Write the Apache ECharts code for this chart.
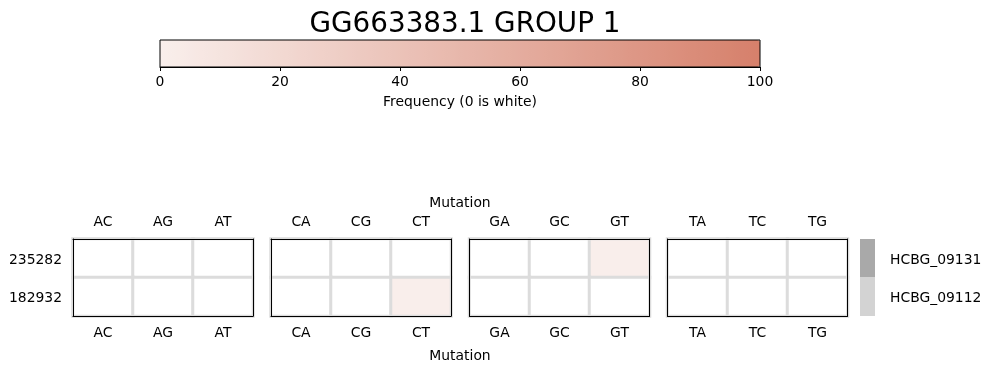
<!DOCTYPE html>
<html>
<head>
<meta charset="utf-8">
<script src="https://cdn.jsdelivr.net/npm/echarts@6/dist/echarts.min.js"></script>
<style>html,body{margin:0;padding:0;background:#fff}#c{width:991px;height:373px}</style>
</head>
<body>
<div id="c"></div>
<script>
var titleText = 'GG663383.1 GROUP 1';
var samples = ['235282', '182932'];
var strains = ['HCBG_09131', 'HCBG_09112'];
var mutationGroups = [['AC','AG','AT'], ['CA','CG','CT'], ['GA','GC','GT'], ['TA','TC','TG']];
var freq235282 = [0,0,0, 0,0,0, 0,0,1, 0,0,0];
var freq182932 = [0,0,0, 0,0,1, 0,0,0, 0,0,0];
var colorbarTicks = [0, 20, 40, 60, 80, 100];

var FONT = 'DejaVu Sans';
var FS = 13.9;
var panelLefts = [73, 271, 469.5, 667.5];
var panelW = 180, panelTop = 239, panelH = 77;
var freqs = [freq235282, freq182932];

var grids = [], xAxes = [], yAxes = [], series = [];
mutationGroups.forEach(function (cats, g) {
  grids.push({left: panelLefts[g], top: panelTop, width: panelW, height: panelH, containLabel: false});
  var axLine = {show: true, lineStyle: {color: '#000', width: 1}};
  xAxes.push({type: 'category', gridIndex: g, data: cats, position: 'bottom', z: 5,
    axisLine: axLine, axisTick: {show: false}, splitLine: {show: false},
    axisLabel: {fontFamily: FONT, fontSize: FS, color: '#000', margin: 10}});
  xAxes.push({type: 'category', gridIndex: g, data: cats, position: 'top', z: 5,
    axisLine: axLine, axisTick: {show: false}, splitLine: {show: false},
    axisLabel: {fontFamily: FONT, fontSize: FS, color: '#000', margin: 10}});
  yAxes.push({type: 'category', gridIndex: g, data: samples, inverse: true, position: 'left', z: 5,
    axisLine: axLine, axisTick: {show: false},
    axisLabel: {show: g === 0, fontFamily: FONT, fontSize: FS, color: '#000', margin: 11,
      verticalAlign: 'top', lineHeight: 4}});
  yAxes.push({type: 'category', gridIndex: g, data: samples, inverse: true, position: 'right', z: 5,
    axisLine: axLine, axisTick: {show: false}, axisLabel: {show: false}});
  var data = [];
  for (var i = 0; i < samples.length; i++) {
    for (var j = 0; j < cats.length; j++) {
      data.push([j, i, freqs[i][g * 3 + j]]);
    }
  }
  series.push({type: 'heatmap', xAxisIndex: 2 * g, yAxisIndex: 2 * g, data: data, z: 2,
    itemStyle: {borderColor: '#dcdcdc', borderWidth: 3}, emphasis: {disabled: true}});
});

// colorbar axis grid (index 4)
grids.push({left: 160, top: 40, width: 600, height: 27, show: true, borderColor: '#000', borderWidth: 1,
  backgroundColor: 'transparent', z: 10});
xAxes.push({type: 'value', gridIndex: 4, min: colorbarTicks[0], max: colorbarTicks[colorbarTicks.length - 1],
  interval: colorbarTicks[1] - colorbarTicks[0], position: 'bottom', z: 10,
  axisLine: {show: true, lineStyle: {color: '#000'}},
  axisTick: {show: true, length: 4, lineStyle: {color: '#000'}},
  splitLine: {show: false},
  axisLabel: {fontFamily: FONT, fontSize: FS, color: '#000', margin: 8},
  name: 'Frequency (0 is white)', nameLocation: 'middle', nameGap: 28,
  nameTextStyle: {fontFamily: FONT, fontSize: FS, color: '#000'}});
yAxes.push({type: 'value', gridIndex: 4, show: false, min: 0, max: 1});

// strain sidebar grid (index 5)
grids.push({left: 860, top: panelTop, width: 15, height: panelH});
xAxes.push({type: 'value', gridIndex: 5, show: false, min: 0, max: 1});
yAxes.push({type: 'category', gridIndex: 5, data: strains, inverse: true, position: 'right',
  axisLine: {show: false}, axisTick: {show: false},
  axisLabel: {fontFamily: FONT, fontSize: FS, color: '#000', margin: 15, verticalAlign: 'top', lineHeight: 4}});
var strainColors = ['#a9a9a9', '#d3d3d3'];
series.push({type: 'bar', xAxisIndex: 9, yAxisIndex: 9, barWidth: '100%', barCategoryGap: '0%',
  data: strains.map(function (s, i) { return {value: 1, itemStyle: {color: strainColors[i]}}; }),
  silent: true});

var option = {
  backgroundColor: '#fff',
  animation: false,
  title: {text: titleText, left: 460, top: 6, textAlign: 'center',
    textStyle: {fontFamily: FONT, fontSize: 27.8, fontWeight: 'normal', color: '#000'}},
  grid: grids,
  xAxis: xAxes,
  yAxis: yAxes,
  visualMap: {type: 'continuous', min: 0, max: 100, range: [0.001, 100], orient: 'horizontal',
    left: 160, top: 40, itemWidth: 27, itemHeight: 600, padding: 0, calculable: false,
    seriesIndex: [0, 1, 2, 3], showLabel: false, hoverLink: false,
    inRange: {color: ['#f9efec', '#d6806b']}, outOfRange: {color: ['#ffffff']}},
  graphic: [
    {type: 'text', style: {text: 'Mutation', fontFamily: FONT, fontSize: FS, fill: '#000',
      x: 460, y: 203, align: 'center', verticalAlign: 'middle'}},
    {type: 'text', style: {text: 'Mutation', fontFamily: FONT, fontSize: FS, fill: '#000',
      x: 460, y: 356, align: 'center', verticalAlign: 'middle'}}
  ],
  series: series
};
var chart = echarts.init(document.getElementById('c'), null, {renderer: 'canvas'});
chart.setOption(option);
</script>
</body>
</html>
